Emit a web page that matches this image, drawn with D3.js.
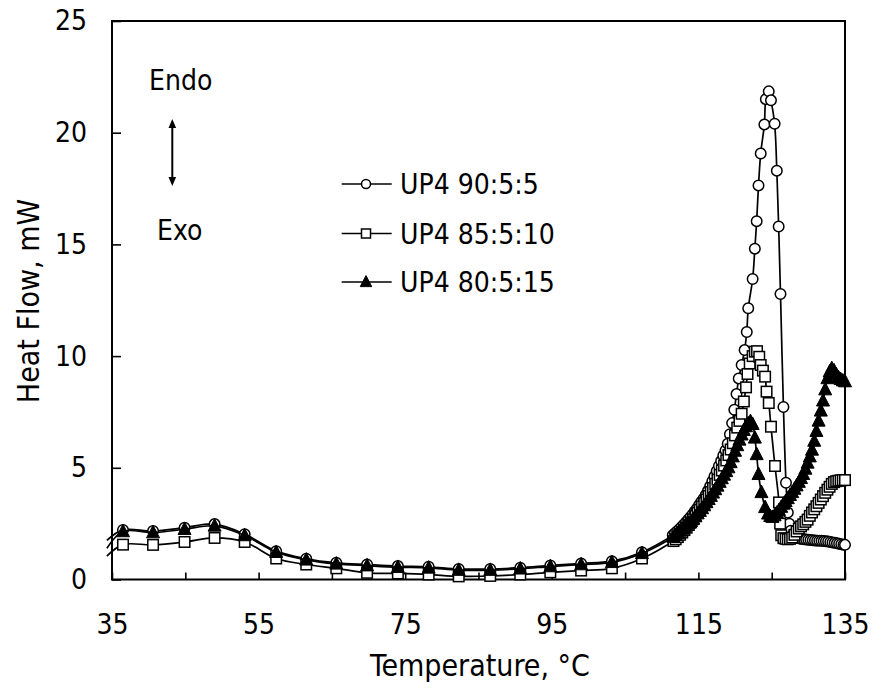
<!DOCTYPE html>
<html>
<head>
<meta charset="utf-8">
<script src="https://cdn.jsdelivr.net/npm/d3@7"></script>
<style>
  html, body { margin: 0; padding: 0; background: #fff; }
  svg text { font-family: "DejaVu Sans Condensed", "Liberation Sans", Arial, sans-serif; fill: #000; }
</style>
</head>
<body>
<svg id="chart" width="872" height="689"></svg>
<script>
// ---------- data ----------
const xTickValues = [35, 45, 55, 65, 75, 85, 95, 105, 115, 125, 135];
const xTickLabels = [35, 55, 75, 95, 115, 135];
const yTickValues = [0, 5, 10, 15, 20, 25];

const seriesNames = ["UP4 90:5:5", "UP4 85:5:10", "UP4 80:5:15"];

// sparse part (shared temperatures)
const sparseT = [34.3, 36.5, 40.6, 44.9, 49.0, 53.1, 57.4, 61.5, 65.6, 69.8, 74.0, 78.2, 82.3, 86.6, 90.7, 94.8, 99.0, 103.2, 107.3];
const circleSparseHF = [1.75, 2.22, 2.17, 2.32, 2.48, 2.03, 1.27, 0.93, 0.75, 0.67, 0.60, 0.57, 0.47, 0.47, 0.53, 0.63, 0.72, 0.82, 1.22];
const squareSparseHF = [1.05, 1.56, 1.55, 1.68, 1.86, 1.68, 0.94, 0.67, 0.50, 0.30, 0.27, 0.22, 0.14, 0.16, 0.22, 0.32, 0.40, 0.50, 0.94];
const triSparseHF    = [1.40, 2.15, 2.10, 2.25, 2.40, 1.97, 1.22, 0.88, 0.70, 0.62, 0.55, 0.52, 0.42, 0.42, 0.48, 0.58, 0.67, 0.77, 1.17];

// dense part
const circleT = [111.5,111.8,112.1,112.4,112.7,113.0,113.3,113.6,113.9,114.2,114.5,114.8,115.1,115.4,115.7,116.0,116.3,116.6,116.9,117.2,117.5,117.8,118.1,118.4,118.7,119.0,119.3,119.6,119.9,120.2,120.5,120.9,121.3,121.6,121.8,122.4,122.7,122.95,123.2,123.5,124.0,124.2,124.6,124.9,125.4,125.7,125.95,126.2,126.6,126.95,127.2,127.4,127.6,127.9,128.2,128.5,128.8,129.1,129.4,129.7,130.0,130.3,130.6,130.9,131.2,131.5,131.8,132.1,132.4,132.7,133.0,133.3,133.6,133.9,134.2,134.5,134.8,135.0];
const circleHF = [1.98,2.07,2.16,2.25,2.35,2.45,2.56,2.67,2.79,2.91,3.04,3.18,3.33,3.48,3.62,3.78,3.97,4.17,4.40,4.62,4.86,5.08,5.30,5.55,5.78,6.08,6.50,7.00,7.60,8.30,9.00,9.60,10.27,11.08,12.14,13.45,14.81,16.04,17.64,19.07,20.37,21.50,21.85,21.45,20.40,18.30,15.80,12.78,7.72,4.33,3.00,2.50,2.18,2.00,1.92,1.86,1.83,1.81,1.80,1.79,1.78,1.77,1.76,1.75,1.74,1.74,1.73,1.72,1.71,1.70,1.68,1.66,1.64,1.62,1.60,1.58,1.56,1.55];

const squareT = [111.6,111.9,112.2,112.5,112.8,113.1,113.4,113.7,114.0,114.3,114.6,114.9,115.2,115.5,115.8,116.1,116.4,116.7,117.0,117.3,117.6,117.9,118.2,118.5,118.8,119.1,119.4,119.7,120.0,120.3,120.6,120.9,121.2,121.5,121.7,122.0,122.4,122.7,123.0,123.3,123.5,123.8,124.1,124.3,124.6,124.9,125.45,126.0,126.15,126.3,126.6,126.9,127.2,127.5,127.8,128.1,128.4,128.7,129.0,129.3,129.6,129.9,130.2,130.5,130.8,131.1,131.4,131.7,132.0,132.3,132.6,132.9,133.2,133.5,133.8,134.1,134.4,134.7,135.0];
const squareHF = [1.72,1.80,1.90,2.00,2.10,2.21,2.32,2.44,2.56,2.70,2.84,2.98,3.12,3.27,3.42,3.58,3.74,3.92,4.10,4.28,4.47,4.68,4.88,5.10,5.33,5.57,5.82,6.10,6.45,6.80,7.10,7.42,7.97,8.60,9.20,9.67,10.00,10.20,10.22,9.97,9.60,9.35,9.08,8.41,7.90,6.84,5.08,3.45,2.50,1.98,1.85,1.82,1.80,1.82,1.88,2.00,2.15,2.28,2.38,2.47,2.58,2.68,2.85,3.00,3.14,3.28,3.43,3.58,3.73,3.88,4.02,4.15,4.28,4.36,4.40,4.42,4.44,4.45,4.45];

const triT = [111.6,111.9,112.2,112.5,112.8,113.1,113.4,113.7,114.0,114.3,114.6,114.9,115.2,115.5,115.8,116.1,116.4,116.7,117.0,117.3,117.6,117.9,118.2,118.5,118.8,119.1,119.4,119.7,120.0,120.3,120.6,120.9,121.2,121.5,121.8,122.1,122.4,122.7,122.95,123.2,123.6,124.1,124.5,124.8,125.1,125.4,125.7,126.0,126.3,126.6,126.9,127.2,127.5,127.8,128.1,128.4,128.7,129.0,129.3,129.6,129.9,130.2,130.5,130.8,131.1,131.4,131.7,132.0,132.3,132.6,132.9,133.2,133.5,133.8,134.1,134.4,134.7,135.0];
const triHF = [1.90,1.98,2.07,2.17,2.26,2.35,2.44,2.52,2.61,2.71,2.82,2.95,3.06,3.18,3.31,3.45,3.59,3.73,3.88,4.03,4.19,4.36,4.52,4.68,4.84,5.01,5.24,5.50,5.75,6.00,6.25,6.48,6.68,6.85,6.98,7.08,6.95,6.34,5.60,4.71,3.90,3.23,2.94,2.83,2.79,2.86,2.98,3.10,3.24,3.38,3.50,3.63,3.77,3.90,4.05,4.20,4.36,4.53,4.71,4.95,5.22,5.50,5.80,6.20,6.64,7.10,7.55,8.00,8.50,9.00,9.30,9.45,9.35,9.18,9.05,8.96,8.90,8.86];

// ---------- build ----------
function pts(tA, hA) { return tA.map((t, i) => ({ t: t, v: hA[i] })); }
const series = [
  { name: seriesNames[0], shape: "circle",   data: pts(sparseT, circleSparseHF).concat(pts(circleT, circleHF)) },
  { name: seriesNames[1], shape: "square",   data: pts(sparseT, squareSparseHF).concat(pts(squareT, squareHF)) },
  { name: seriesNames[2], shape: "triangle", data: pts(sparseT, triSparseHF).concat(pts(triT, triHF)) }
];

const svg = d3.select("#chart");
const FS = 28, FST = 30;
const pLeft = 112, pRight = 845, pTop = 21, pBottom = 579.5;
const x = d3.scaleLinear().domain([35, 135]).range([pLeft, pRight]);
const y = d3.scaleLinear().domain([0, 25]).range([pBottom, pTop]);

// axes
const xAxis = d3.axisBottom(x).tickValues(xTickValues).tickSize(-7).tickPadding(35)
  .tickFormat(d => xTickLabels.includes(d) ? d : "");
const gx = svg.append("g").attr("transform", `translate(0,${pBottom})`).call(xAxis);
gx.select(".domain").remove();
gx.selectAll(".tick line").attr("stroke", "#000").attr("stroke-width", 1.6);
gx.selectAll("text").attr("font-size", FS).attr("font-family", null);
gx.attr("font-family", null).attr("font-size", null);

const yAxis = d3.axisLeft(y).tickValues(yTickValues).tickSize(-9).tickPadding(25);
const gy = svg.append("g").attr("transform", `translate(${pLeft},0)`).call(yAxis);
gy.select(".domain").remove();
gy.selectAll(".tick line").attr("stroke", "#000").attr("stroke-width", 1.6);
gy.selectAll("text").attr("font-size", FS).attr("font-family", null);
gy.attr("font-family", null).attr("font-size", null);

// frame
svg.append("rect").attr("x", pLeft).attr("y", pTop).attr("width", pRight - pLeft).attr("height", pBottom - pTop)
  .attr("fill", "none").attr("stroke", "#000").attr("stroke-width", 2);

// axis titles
svg.append("text").attr("x", 480).attr("y", 676).attr("text-anchor", "middle")
  .attr("font-size", FST).text("Temperature, °C");
svg.append("text").attr("transform", "translate(39,301) rotate(-90)").attr("text-anchor", "middle")
  .attr("font-size", FST).text("Heat Flow, mW");

// Endo / Exo
svg.append("text").attr("x", 149).attr("y", 90).attr("font-size", FS).text("Endo");
svg.append("text").attr("x", 157).attr("y", 240).attr("font-size", FS).text("Exo");
const ax = 172.3, ay1 = 119, ay2 = 186;
svg.append("line").attr("x1", ax).attr("x2", ax).attr("y1", ay1 + 6).attr("y2", ay2 - 6)
  .attr("stroke", "#000").attr("stroke-width", 2);
svg.append("path").attr("d", `M${ax},${ay1} L${ax - 3.8},${ay1 + 9} L${ax + 3.8},${ay1 + 9} Z`).attr("fill", "#000");
svg.append("path").attr("d", `M${ax},${ay2} L${ax - 3.8},${ay2 - 9} L${ax + 3.8},${ay2 - 9} Z`).attr("fill", "#000");

// markers
function drawMarker(g, shape, cx, cy, s) {
  if (shape === "circle") {
    g.append("circle").attr("cx", cx).attr("cy", cy).attr("r", s * 0.5)
      .attr("fill", "#fff").attr("stroke", "#000").attr("stroke-width", 1.5);
  } else if (shape === "square") {
    g.append("rect").attr("x", cx - s / 2).attr("y", cy - s / 2).attr("width", s).attr("height", s)
      .attr("fill", "#fff").attr("stroke", "#000").attr("stroke-width", 1.5);
  } else {
    const h = s;
    g.append("path").attr("d", `M${cx},${cy - h * 0.58} L${cx - s * 0.52},${cy + h * 0.42} L${cx + s * 0.52},${cy + h * 0.42} Z`)
      .attr("fill", "#000").attr("stroke", "#000").attr("stroke-width", 1);
  }
}

const line = d3.line().x(d => x(d.t)).y(d => y(d.v)).curve(d3.curveCatmullRom.alpha(0.5));
const markerSize = { circle: 10.5, square: 10.5, triangle: 12.5 };
const legendSize = { circle: 9, square: 9, triangle: 11 };
const plot = svg.append("g");
series.forEach(s => {
  const g = plot.append("g");
  g.append("path").attr("d", line(s.data)).attr("fill", "none").attr("stroke", "#000").attr("stroke-width", 1.7);
  s.data.filter(d => d.t >= 35).forEach(d => drawMarker(g, s.shape, x(d.t), y(d.v), markerSize[s.shape]));
});

// legend
const legRows = [184, 233.5, 282];
series.forEach((s, i) => {
  const g = svg.append("g");
  const ly = legRows[i];
  g.append("line").attr("x1", 341.7).attr("x2", 391.7).attr("y1", ly).attr("y2", ly)
    .attr("stroke", "#000").attr("stroke-width", 1.7);
  drawMarker(g, s.shape, 366, ly, legendSize[s.shape]);
  g.append("text").attr("x", 400).attr("y", ly).attr("dy", "0.36em").attr("font-size", FS).text(s.name);
});
</script>
</body>
</html>
